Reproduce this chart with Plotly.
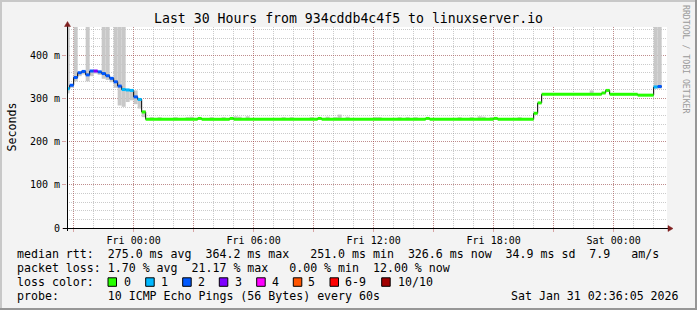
import plotly.graph_objects as go

# ---------------- data ----------------
# median RTT (ms) step segments: start time, value, lost pings (of 10)
med_time = [
    "2026-01-29 20:36", "2026-01-29 20:48", "2026-01-29 21:00", "2026-01-29 21:12",
    "2026-01-29 21:24", "2026-01-29 21:36", "2026-01-29 21:48", "2026-01-29 22:00",
    "2026-01-29 22:12", "2026-01-29 22:24", "2026-01-29 22:36", "2026-01-29 22:48",
    "2026-01-29 23:00", "2026-01-29 23:12", "2026-01-29 23:24", "2026-01-29 23:36",
    "2026-01-29 23:48", "2026-01-30 00:00", "2026-01-30 00:12", "2026-01-30 00:24",
    "2026-01-30 00:36", "2026-01-30 03:12", "2026-01-30 03:24", "2026-01-30 04:48",
    "2026-01-30 05:00", "2026-01-30 09:12", "2026-01-30 09:24", "2026-01-30 14:36",
    "2026-01-30 14:48", "2026-01-30 18:00", "2026-01-30 18:12", "2026-01-30 20:00",
    "2026-01-30 20:12", "2026-01-30 20:24", "2026-01-30 23:24", "2026-01-30 23:36",
    "2026-01-30 23:48", "2026-01-31 01:12", "2026-01-31 02:00", "2026-01-31 02:12",
]
med_val = [
    323, 331, 349, 360,
    363, 355, 364, 364,
    362, 358, 353, 347,
    339, 329, 321, 320,
    319, 304, 298, 269,
    252, 254, 252, 254,
    252, 254, 252, 254,
    252, 254, 252, 266,
    290, 310, 313, 319,
    310, 308, 327, 328,
]
med_loss = [
    1, 2, 2, 2,
    2, 2, 2, 3,
    2, 2, 2, 2,
    2, 2, 1, 1,
    1, 2, 1, 0,
    0, 0, 0, 0,
    0, 0, 0, 0,
    0, 0, 0, 0,
    0, 0, 0, 0,
    0, 0, 1, 2,
]
med_end = "2026-01-31 02:24"

# smoke (spread of the 10 pings): step start, low, high (ms)
smoke_time = [
    "2026-01-29 20:36", "2026-01-29 20:48", "2026-01-29 21:00", "2026-01-29 21:12",
    "2026-01-29 21:24", "2026-01-29 21:36", "2026-01-29 21:48", "2026-01-29 22:00",
    "2026-01-29 22:12", "2026-01-29 22:24", "2026-01-29 22:36", "2026-01-29 22:48",
    "2026-01-29 23:00", "2026-01-29 23:12", "2026-01-29 23:24", "2026-01-29 23:36",
    "2026-01-29 23:48", "2026-01-30 00:00", "2026-01-30 00:12", "2026-01-30 00:24",
    "2026-01-30 00:48", "2026-01-30 01:12", "2026-01-30 02:00", "2026-01-30 02:36",
    "2026-01-30 02:48", "2026-01-30 03:48", "2026-01-30 04:24", "2026-01-30 05:00",
    "2026-01-30 05:12", "2026-01-30 05:36", "2026-01-30 07:24", "2026-01-30 07:48",
    "2026-01-30 08:48", "2026-01-30 09:36", "2026-01-30 10:00", "2026-01-30 10:12",
    "2026-01-30 10:36", "2026-01-30 12:00", "2026-01-30 12:12", "2026-01-30 13:12",
    "2026-01-30 13:36", "2026-01-30 14:00", "2026-01-30 16:12", "2026-01-30 16:48",
    "2026-01-30 17:12", "2026-01-30 17:24", "2026-01-30 17:48", "2026-01-30 19:12",
    "2026-01-30 22:48", "2026-01-31 02:00", "2026-01-31 02:12",
]
smoke_lo = [
    312, 325, 340, 352,
    356, 340, 352, 358,
    355, 346, 343, 338,
    325, 284, 281, 292,
    296, 287, 277, 257,
    250, 250, 250, 250,
    250, 250, 250, 250,
    250, 250, 250, 250,
    250, 250, 250, 250,
    250, 250, 250, 250,
    250, 250, 250, 250,
    250, 250, 250, 250,
    308, 323, 323,
]
smoke_hi = [
    480, 334, 480, 362,
    366, 480, 366, 366,
    364, 480, 480, 349,
    480, 480, 480, 323,
    321, 319, 300, 272,
    257, 257, 257, 257,
    258, 257, 257, 259,
    258, 259, 257, 257,
    257, 258, 257, 263,
    258, 257, 257, 257,
    257, 257, 257, 257,
    259, 258, 257, 257,
    319, 480, 480,
]
step_ms = 12 * 60 * 1000

loss_labels = ["0", "1", "2", "3", "4", "5", "6-9", "10/10"]
loss_colors = ["#26ff00", "#00b8ff", "#0059ff", "#7e00ff",
               "#ff00ff", "#ff5500", "#ff0000", "#a10000"]

x_tickvals = ["2026-01-29 21:00", "2026-01-30 00:00", "2026-01-30 03:00",
              "2026-01-30 06:00", "2026-01-30 09:00", "2026-01-30 12:00",
              "2026-01-30 15:00", "2026-01-30 18:00", "2026-01-30 21:00",
              "2026-01-31 00:00"]
x_ticktext = ["", "Fri 00:00", "", "Fri 06:00", "", "Fri 12:00",
              "", "Fri 18:00", "", "Sat 00:00"]
y_tickvals = [0, 100, 200, 300, 400]
y_ticktext = ["0", "100 m", "200 m", "300 m", "400 m"]

title = "Last 30 Hours from 934cddb4c4f5 to linuxserver.io"
line_rtt = "median rtt:  275.0 ms avg  364.2 ms max   251.0 ms min  326.6 ms now  34.9 ms sd  7.9   am/s"
line_loss = "packet loss: 1.70 % avg  21.17 % max   0.00 % min  12.00 % now"
line_probe = "probe:       10 ICMP Echo Pings (56 Bytes) every 60s"
stamp = "Sat Jan 31 02:36:05 2026"

# ---------------- geometry helpers ----------------
W, H = 697, 310
ML, MR, MT, MB = 67, 30, 27, 82
PW, PH = W - ML - MR, H - MT - MB


def PX(x):
    return (x - ML) / PW


def PY(y):
    return (H - MB - y) / PH


FONT = "DejaVu Sans Mono"
MGRID = "rgba(170,40,40,0.38)"
GRID = "rgba(130,130,130,0.42)"

fig = go.Figure()

# smoke
fig.add_trace(go.Bar(
    x=smoke_time,
    y=[h - l for h, l in zip(smoke_hi, smoke_lo)],
    base=smoke_lo,
    width=step_ms, offset=0,
    marker=dict(color="#c8c8c8", line=dict(width=0)),
    hoverinfo="skip",
))

# thin dark median step line
fig.add_trace(go.Scatter(
    x=med_time + [med_end], y=med_val + [med_val[-1]],
    mode="lines", line=dict(color="#000000", width=1, shape="hv"),
    hoverinfo="skip",
))

# coloured median segments by loss
ends = med_time[1:] + [med_end]
for lvl in sorted(set(med_loss)):
    xs, ys = [], []
    for t0, t1, v, l in zip(med_time, ends, med_val, med_loss):
        if l == lvl:
            xs += [t0, t1, None]
            ys += [v, v, None]
    fig.add_trace(go.Scatter(
        x=xs, y=ys, mode="lines",
        line=dict(color=loss_colors[lvl], width=3),
        hoverinfo="skip",
    ))

shapes = []
# frame
shapes.append(dict(type="rect", xref="paper", yref="paper", x0=PX(0), x1=PX(W), y0=PY(0), y1=PY(2),
                   fillcolor="#c8c8c8", line=dict(width=0), layer="below"))
shapes.append(dict(type="rect", xref="paper", yref="paper", x0=PX(0), x1=PX(2), y0=PY(0), y1=PY(H),
                   fillcolor="#c8c8c8", line=dict(width=0), layer="below"))
shapes.append(dict(type="rect", xref="paper", yref="paper", x0=PX(0), x1=PX(W), y0=PY(H - 2), y1=PY(H),
                   fillcolor="#969696", line=dict(width=0), layer="below"))
shapes.append(dict(type="rect", xref="paper", yref="paper", x0=PX(W - 2), x1=PX(W), y0=PY(0), y1=PY(H),
                   fillcolor="#969696", line=dict(width=0), layer="below"))
# axes
shapes.append(dict(type="line", xref="paper", yref="paper", x0=PX(63), x1=PX(669), y0=PY(228.5), y1=PY(228.5),
                   line=dict(color="#000000", width=1)))
shapes.append(dict(type="line", xref="paper", yref="paper", x0=PX(67.5), x1=PX(67.5), y0=PY(231), y1=PY(25),
                   line=dict(color="#000000", width=1)))
# arrows
shapes.append(dict(type="path", xref="paper", yref="paper",
                   path=f"M {PX(673)} {PY(228.5)} L {PX(668)} {PY(225.5)} L {PX(668)} {PY(231.5)} Z",
                   fillcolor="#7f1f1f", line=dict(color="#7f1f1f", width=0.5)))
shapes.append(dict(type="path", xref="paper", yref="paper",
                   path=f"M {PX(67.5)} {PY(21.5)} L {PX(64.5)} {PY(26.5)} L {PX(70.5)} {PY(26.5)} Z",
                   fillcolor="#7f1f1f", line=dict(color="#7f1f1f", width=0.5)))

annotations = []


def txt(s, x, y, size=11.6, anchor="left", color="#000000", angle=0):
    annotations.append(dict(
        text=s.replace(" ", "\u00a0"), x=PX(x), y=PY(y), xref="paper", yref="paper",
        xanchor=anchor, yanchor="middle", showarrow=False, textangle=angle,
        font=dict(family=FONT, size=size, color=color), borderpad=0,
    ))


txt(title, 348, 19, size=13.2, anchor="center")
txt("Seconds", 11, 127.5, size=11.6, anchor="center", angle=-90)
txt("RRDTOOL / TOBI OETIKER", 686, 59, size=8.2, anchor="center", color="#9a9a9a", angle=90)
txt(line_rtt, 16, 254)
txt(line_loss, 16, 268)
txt("loss color:", 16, 282)
txt(line_probe, 16, 296)
txt(stamp, 680, 296, anchor="right")

box_x = [108, 145.7, 182.7, 219.3, 256.7, 293.3, 330, 381.7]
lab_x = [123.3, 160, 196.7, 234, 270.7, 307.3, 344, 396.7]
for bx, lx, lab, col in zip(box_x, lab_x, loss_labels, loss_colors):
    shapes.append(dict(type="rect", xref="paper", yref="paper",
                       x0=PX(bx), x1=PX(bx + 8.5), y0=PY(277.8), y1=PY(286.3),
                       fillcolor=col, line=dict(color="#000000", width=1)))
    txt(lab, lx, 282)

fig.update_layout(
    width=W, height=H, autosize=False,
    margin=dict(l=ML, r=MR, t=MT, b=MB, pad=0),
    paper_bgcolor="#f3f3f3", plot_bgcolor="#ffffff",
    showlegend=False, barmode="overlay",
    font=dict(family=FONT, size=10, color="#000000"),
    shapes=shapes, annotations=annotations,
    xaxis=dict(
        type="date", range=["2026-01-29 20:40", "2026-01-31 02:40"],
        tickmode="array", tickvals=x_tickvals, ticktext=x_ticktext,
        showgrid=True, gridcolor=MGRID, griddash="1px,1px", gridwidth=1,
        ticks="outside", ticklen=3, tickcolor=MGRID, tickwidth=1,
        tickfont=dict(family=FONT, size=10, color="#000000"),
        zeroline=False, showline=False, fixedrange=True,
        minor=dict(tickmode="linear", tick0="2026-01-29 21:00", dtick=3600000,
                   showgrid=True, gridcolor=GRID, griddash="1px,1px", gridwidth=1, ticks=""),
    ),
    yaxis=dict(
        range=[0, 466],
        tickmode="array", tickvals=y_tickvals, ticktext=y_ticktext,
        showgrid=True, gridcolor=MGRID, griddash="1px,1px", gridwidth=1,
        ticks="outside", ticklen=4, tickcolor=MGRID, tickwidth=1,
        tickfont=dict(family=FONT, size=10, color="#000000"),
        zeroline=False, showline=False, fixedrange=True,
        minor=dict(tickmode="linear", tick0=0, dtick=20,
                   showgrid=True, gridcolor=GRID, griddash="1px,1px", gridwidth=1, ticks=""),
    ),
)

fig.write_html("out.html", config={"displayModeBar": False})
